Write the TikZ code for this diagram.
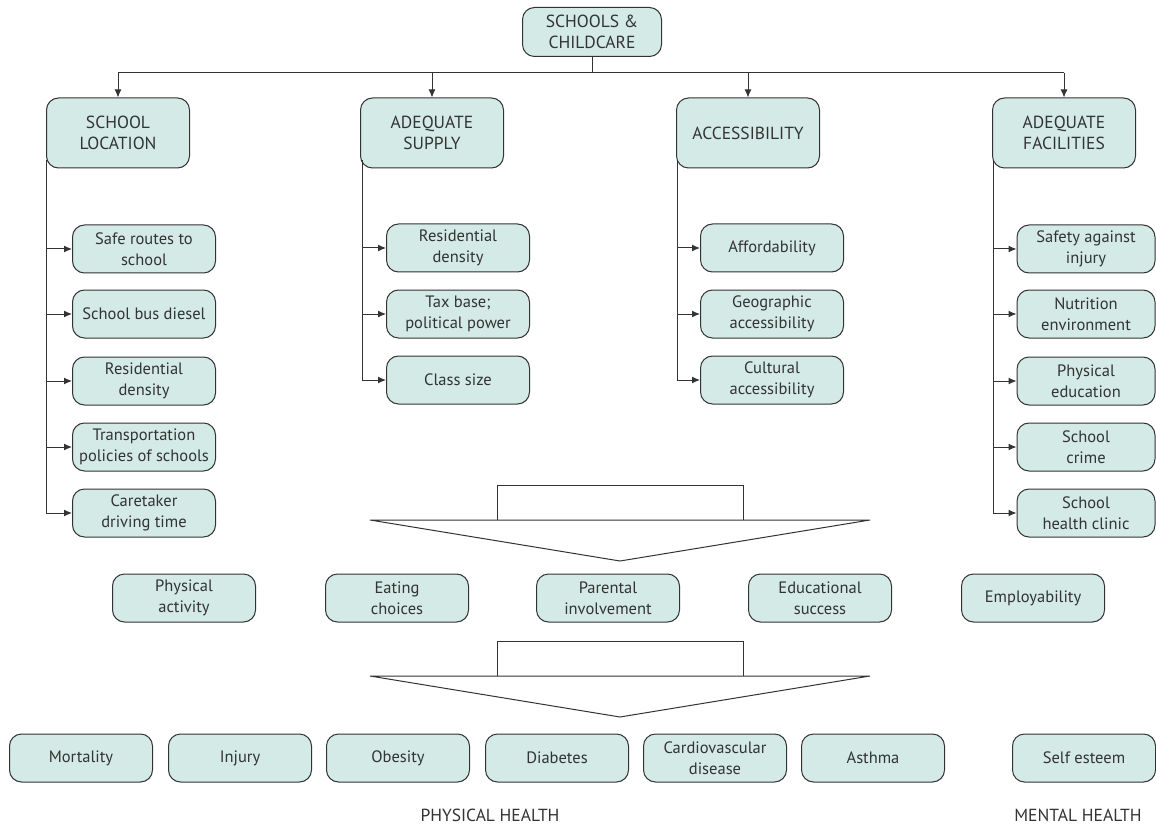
\documentclass[tikz,border=0pt]{standalone}
\usepackage{fontspec}
\setmainfont{PT Sans}
\usetikzlibrary{arrows.meta}
\definecolor{boxfill}{HTML}{D3EAE6}
\definecolor{ink}{HTML}{333333}
\begin{document}
\begin{tikzpicture}[x=1pt,y=-1pt,
  box/.style={draw=ink,line width=1pt,fill=boxfill,rounded corners=12pt,
    minimum width=143pt,minimum height=48pt,inner xsep=0pt,inner ysep=1pt,align=center,
    text=ink,font=\fontsize{16.5}{21}\selectfont},
  headbox/.style={box,minimum height=70pt,font=\fontsize{17.5}{21}\selectfont},
  link/.style={draw=ink,line width=1pt},
  arr/.style={link,-{Latex[length=8pt,width=7pt]}},
  bigarrow/.style={draw=ink,line width=1pt,fill=white},
  caption/.style={text=ink,font=\fontsize{17.5}{20}\selectfont}]
\useasboundingbox (0,0) rectangle (1156,826);
% top
\node[box,minimum width=139pt,minimum height=49pt,font=\fontsize{17.5}{21}\selectfont] (top) at (592,32) {SCHOOLS \&\\CHILDCARE};
\node[headbox] (loc) at (118,133) {SCHOOL\\LOCATION};
\node[headbox] (sup) at (432,133) {ADEQUATE\\SUPPLY};
\node[headbox] (acc) at (748,133) {ACCESSIBILITY};
\node[headbox] (fac) at (1064,133) {ADEQUATE\\FACILITIES};
\coordinate (jt) at (592,73);
\coordinate (jl) at (118,73);
\coordinate (jr) at (1064,73);
\draw[link] (top.south) -- (jt);
\draw[link] (jl) -- (jr);
\draw[arr] (jl) -- (loc.north);
\draw[arr] (jt -| sup) -- (sup.north);
\draw[arr] (jt -| acc) -- (acc.north);
\draw[arr] (jr) -- (fac.north);
% school location children
\node[box] (l1) at (144,249) {Safe routes to\\school};
\node[box] (l2) at (144,314) {School bus diesel};
\node[box] (l3) at (144,381) {Residential\\density};
\node[box] (l4) at (144,447) {Transportation\\policies of schools};
\node[box] (l5) at (144,513) {Caretaker\\driving time};
\coordinate (lx) at (46,160);
\draw[link] (lx) -- (lx |- l5.west);
\foreach \n in {l1,l2,l3,l4,l5} \draw[arr] (lx |- \n.west) -- (\n.west);
% supply children
\node[box] (s1) at (458,248) {Residential\\density};
\node[box] (s2) at (458,314) {Tax base;\\political power};
\node[box] (s3) at (458,380) {Class size};
\coordinate (sx) at (362,160);
\draw[link] (sx) -- (sx |- s3.west);
\foreach \n in {s1,s2,s3} \draw[arr] (sx |- \n.west) -- (\n.west);
% accessibility children
\node[box] (a1) at (772,248) {Affordability};
\node[box] (a2) at (772,314) {Geographic\\accessibility};
\node[box] (a3) at (772,380) {Cultural\\accessibility};
\coordinate (ax) at (677,160);
\draw[link] (ax) -- (ax |- a3.west);
\foreach \n in {a1,a2,a3} \draw[arr] (ax |- \n.west) -- (\n.west);
% facilities children
\node[box,minimum width=138pt] (f1) at (1086,249) {Safety against\\injury};
\node[box,minimum width=138pt] (f2) at (1086,314) {Nutrition\\environment};
\node[box,minimum width=138pt] (f3) at (1086,381) {Physical\\education};
\node[box,minimum width=138pt] (f4) at (1086,447) {School\\crime};
\node[box,minimum width=138pt] (f5) at (1086,513) {School\\health clinic};
\coordinate (fx) at (993,160);
\draw[link] (fx) -- (fx |- f5.west);
\foreach \n in {f1,f2,f3,f4,f5} \draw[arr] (fx |- \n.west) -- (\n.west);
% big arrow 1
\draw[bigarrow] (497,520) -- (497,485) -- (743,485) -- (743,520);
\draw[bigarrow] (370,520) -- (870,520) -- (620,561) -- cycle;
% middle row
\node[box] (m1) at (184,598) {Physical\\activity};
\node[box] (m2) at (397,598) {Eating\\choices};
\node[box] (m3) at (608,598) {Parental\\involvement};
\node[box] (m4) at (820,598) {Educational\\success};
\node[box] (m5) at (1033,598) {Employability};
% big arrow 2
\draw[bigarrow] (497,676) -- (497,641) -- (743,641) -- (743,676);
\draw[bigarrow] (370,676) -- (870,676) -- (620,717) -- cycle;
% bottom row
\node[box] (b1) at (81,758) {Mortality};
\node[box] (b2) at (240,758) {Injury};
\node[box] (b3) at (398,758) {Obesity};
\node[box] (b4) at (557,758) {Diabetes};
\node[box] (b5) at (715,758) {Cardiovascular\\disease};
\node[box] (b6) at (873,758) {Asthma};
\node[box] (b7) at (1084,758) {Self esteem};
\node[caption] (ph) at (490,815) {PHYSICAL HEALTH};
\node[caption] (mh) at (1078,815) {MENTAL HEALTH};
\end{tikzpicture}
\end{document}
